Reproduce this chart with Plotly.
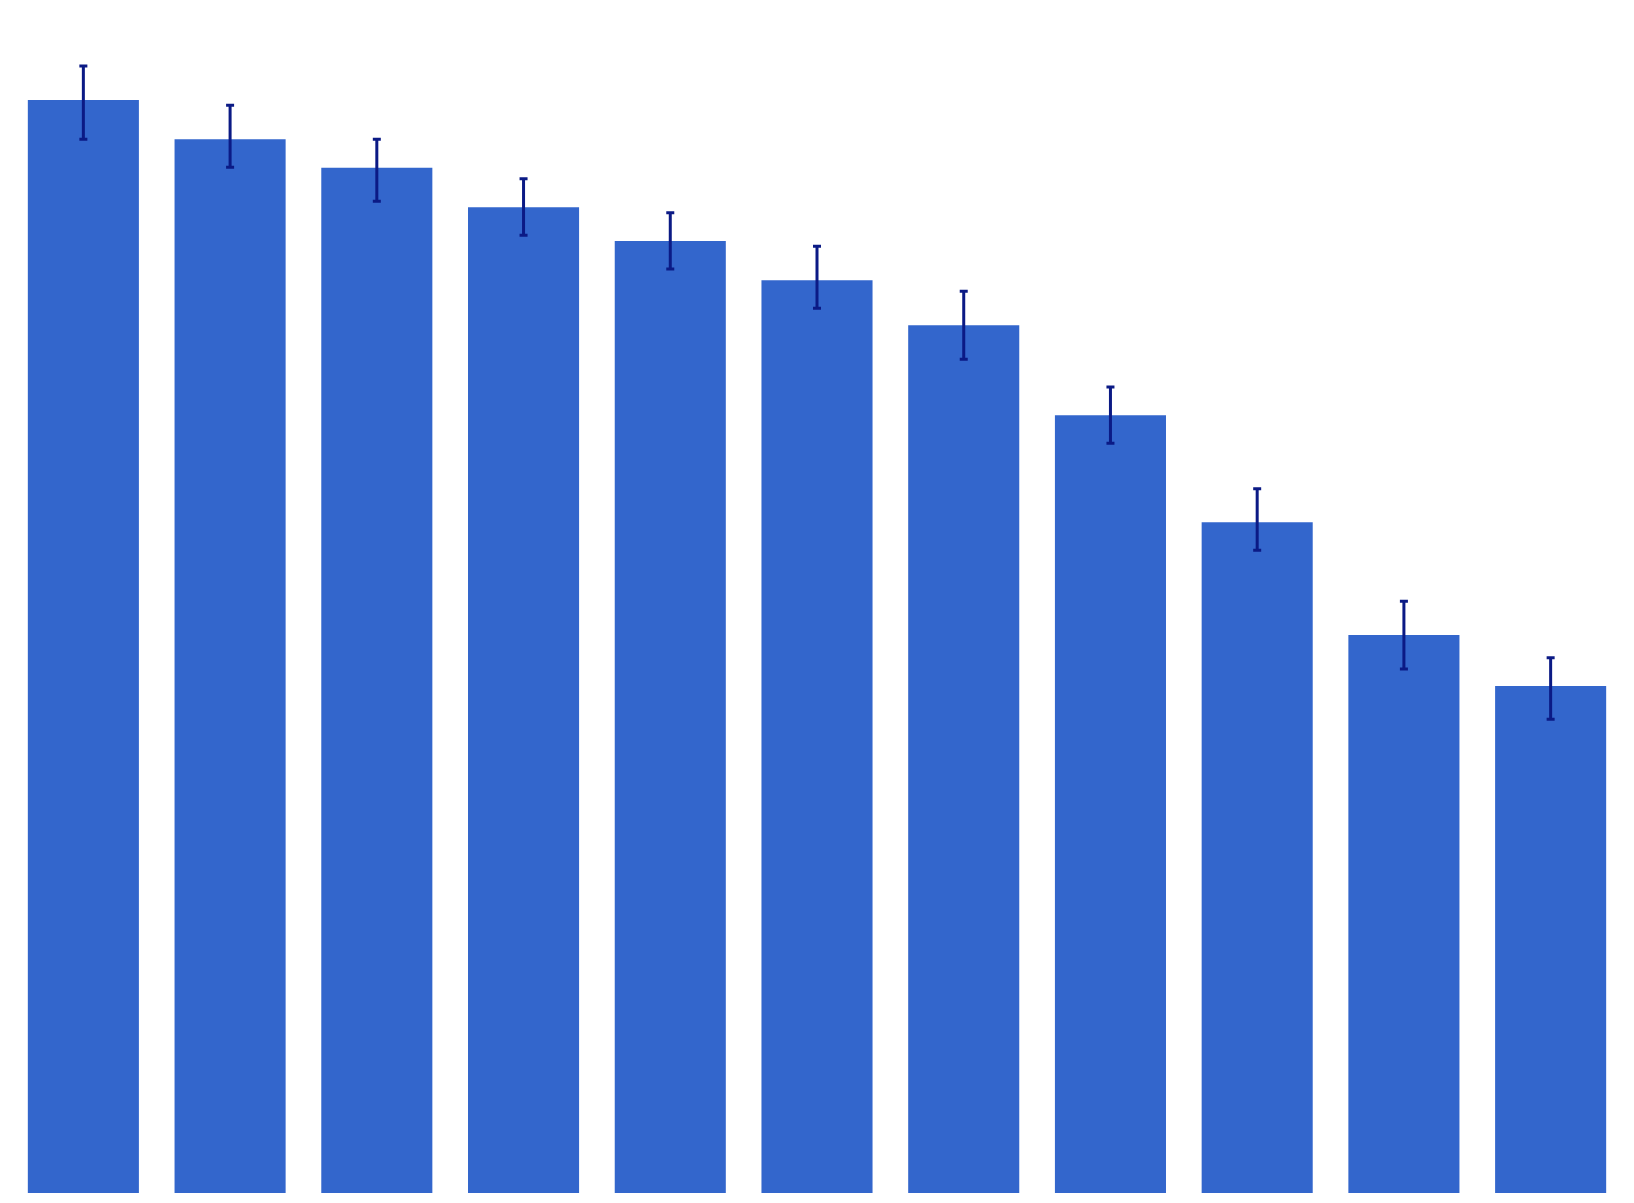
import plotly.graph_objects as go

categories = ["A", "B", "C", "D", "E", "F", "G", "H", "I", "J", "K"]
values = [92.39, 89.07, 86.67, 83.32, 80.47, 77.15, 73.35, 65.74, 56.70, 47.17, 42.86]
err_plus = [2.87, 2.87, 2.40, 2.42, 2.39, 2.87, 2.87, 2.39, 2.84, 2.85, 2.39]
err_minus = [3.32, 2.37, 2.84, 2.37, 2.37, 2.37, 2.87, 2.37, 2.37, 2.87, 2.82]

fig = go.Figure(
    go.Bar(
        x=categories,
        y=values,
        marker=dict(color="#3366CC", line=dict(width=0)),
        error_y=dict(
            type="data",
            symmetric=False,
            array=err_plus,
            arrayminus=err_minus,
            color="#0B1A85",
            thickness=3,
            width=4,
        ),
    )
)

fig.update_layout(
    width=1634,
    height=1203,
    margin=dict(l=2, r=18, t=2, b=18),
    paper_bgcolor="white",
    plot_bgcolor="white",
    bargap=0.243,
    showlegend=False,
    xaxis=dict(visible=False),
    yaxis=dict(visible=False, range=[0, 100]),
)

fig.write_html("out.html")
